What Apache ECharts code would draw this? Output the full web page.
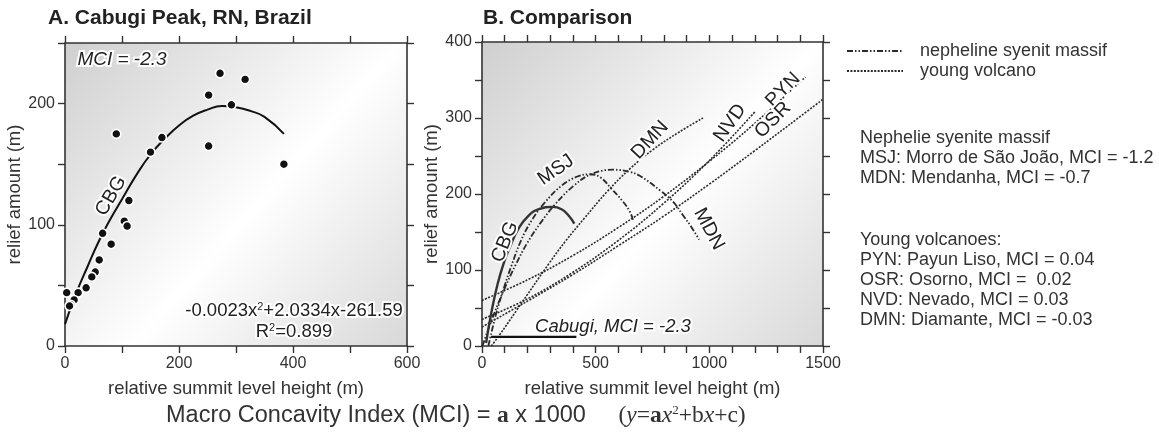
<!DOCTYPE html>
<html>
<head>
<meta charset="utf-8">
<script src="https://cdn.jsdelivr.net/npm/echarts/dist/echarts.min.js"></script>
<style>
html, body { margin: 0; padding: 0; background: #fff; }
#main { width: 1159px; height: 433px; }
</style>
</head>
<body>
<div id="main"></div>
<script>
// A. Cabugi samples (relative summit level height vs relief amount)
const cbgSampleX = [272, 316, 252, 292, 90, 170, 150, 252, 384, 112, 104, 109, 66, 81, 60, 53, 47, 37, 23, 3, 16, 10, 8]
const cbgSampleY = [225, 220, 207, 199, 175, 172, 160, 165, 150, 120, 103, 99, 93, 84, 71, 61, 57, 48, 44, 44, 38, 34, 33]

// A. fitted curve
const fitAX = [0, 20, 40, 60, 80, 100, 125, 150, 175, 200, 225, 250, 275, 300, 325, 350, 384]
const fitAY = [18, 44, 66, 87, 105, 121, 141, 158, 171, 182, 190, 195, 198, 197, 194, 189, 175]

// B. comparison curves
const cbgBX = [18, 40, 69, 100, 128, 160, 200, 250, 310, 350, 380, 406]
const cbgBY = [4, 42, 82, 113, 134, 154, 170, 180, 183, 180, 172, 161]
const msjX = [28, 60, 98, 130, 172, 220, 274, 350, 420, 474, 520, 569, 620, 650, 664]
const msjY = [0, 40, 78, 106, 139, 166, 188, 211, 223, 226, 222, 207, 190, 177, 166]
const mdnX = [2, 50, 100, 150, 200, 260, 320, 400, 480, 577, 650, 694, 782, 840, 884, 920, 955]
const mdnY = [0, 40, 76, 108, 136, 163, 186, 210, 226, 232, 229, 224, 205, 190, 172, 157, 140]
const pynX = [0, 200, 400, 600, 800, 1000, 1200, 1423]
const pynY = [60, 87, 119, 156, 197, 243, 293, 354]
const nvdX = [0, 200, 400, 600, 800, 1000, 1200]
const nvdY = [35, 62, 97, 139, 188, 244, 308]
const osrX = [0, 200, 400, 600, 800, 1000, 1200, 1400, 1497]
const osrY = [25, 59, 94, 132, 171, 213, 257, 302, 324]
const dmnX = [41, 76, 150, 298, 370, 450, 550, 650, 750, 870, 972]
const dmnY = [0, 14, 46, 110, 139, 168, 203, 233, 258, 282, 300]
const cabugiKeyX = [40, 415]
const cabugiKeyY = [12, 12]

// tick labels
const xLabelsA = [0, 200, 400, 600]
const yLabelsA = [0, 100, 200]
const xLabelsB = [0, 500, 1000, 1500]
const yLabelsB = [0, 100, 200, 300, 400]

const font = '"Liberation Sans", Arial, sans-serif'
const serif = '"Liberation Serif", "Times New Roman", serif'
const ink = '#2a2a2a'

function pairs (xs, ys) {
  return xs.map(function (x, i) { return [x, ys[i]] })
}

function bgFill () {
  return new echarts.graphic.LinearGradient(0, 0, 1, 1, [
    { offset: 0, color: '#cfcfcf' },
    { offset: 0.55, color: '#ffffff' },
    { offset: 1, color: '#d8d8d8' }
  ])
}

function axis (grid, pos, min, max, step, labels, name, gap) {
  let ax = {
    gridIndex: grid,
    type: 'value',
    position: pos,
    min: min,
    max: max,
    interval: step,
    axisLine: { onZero: false, lineStyle: { color: '#333', width: 1.6 } },
    axisTick: { length: 7, lineStyle: { color: '#333', width: 1.4 } },
    splitLine: { show: false },
    axisLabel: { show: false }
  }
  if (labels) {
    ax.axisLabel = {
      show: true,
      margin: 10,
      color: '#333',
      fontSize: 16,
      fontFamily: font,
      formatter: function (v) { return labels.indexOf(v) >= 0 ? String(v) : '' }
    }
    ax.name = name
    ax.nameLocation = 'middle'
    ax.nameGap = gap
    ax.nameTextStyle = { color: '#333', fontSize: 18.5, fontFamily: font }
  }
  return ax
}

function dashLine (name, xs, ys, dash, width) {
  return {
    name: name,
    type: 'line',
    xAxisIndex: 2,
    yAxisIndex: 2,
    data: pairs(xs, ys),
    smooth: 0.4,
    showSymbol: false,
    lineStyle: { color: ink, width: width, type: dash },
    z: 2
  }
}

function label (text, x, y, deg, size, italic) {
  return {
    type: 'text',
    x: x,
    y: y,
    rotation: deg * Math.PI / 180,
    z: 20,
    style: {
      text: text,
      font: (italic ? 'italic ' : '') + size + 'px ' + font,
      fill: '#222',
      stroke: '#fff',
      lineWidth: 4,
      align: 'center',
      verticalAlign: 'middle'
    }
  }
}

function plain (text, x, y) {
  return {
    type: 'text',
    x: x,
    y: y,
    style: { text: text, font: '18px ' + font, fill: '#333', align: 'left', verticalAlign: 'middle' }
  }
}

let chart = echarts.init(document.getElementById('main'))
chart.setOption({
  animation: false,
  backgroundColor: '#fff',
  title: [
    { text: 'A. Cabugi Peak, RN, Brazil', left: 48, top: 8, padding: 0, textStyle: { fontFamily: font, fontSize: 21, fontWeight: 'bold', color: '#222' } },
    { text: 'B. Comparison', left: 483, top: 8, padding: 0, textStyle: { fontFamily: font, fontSize: 21, fontWeight: 'bold', color: '#222' } }
  ],
  grid: [
    { left: 65, top: 43, width: 342, height: 303, show: true, borderWidth: 0, backgroundColor: bgFill() },
    { left: 482, top: 42, width: 341, height: 304, show: true, borderWidth: 0, backgroundColor: bgFill() }
  ],
  xAxis: [
    axis(0, 'bottom', 0, 600, 100, xLabelsA, 'relative summit level height (m)', 33),
    axis(0, 'top', 0, 600, 100, null),
    axis(1, 'bottom', 0, 1500, 100, xLabelsB, 'relative summit level height (m)', 33),
    axis(1, 'top', 0, 1500, 100, null)
  ],
  yAxis: [
    axis(0, 'left', 0, 250, 50, yLabelsA, 'relief amount (m)', 37),
    axis(0, 'right', 0, 250, 50, null),
    axis(1, 'left', 0, 400, 50, yLabelsB, 'relief amount (m)', 39),
    axis(1, 'right', 0, 400, 50, null)
  ],
  series: [
    {
      name: 'CBG fit',
      type: 'line',
      xAxisIndex: 0,
      yAxisIndex: 0,
      data: pairs(fitAX, fitAY),
      smooth: true,
      showSymbol: false,
      lineStyle: { color: '#111', width: 2 },
      z: 2
    },
    {
      name: 'CBG samples',
      type: 'scatter',
      xAxisIndex: 0,
      yAxisIndex: 0,
      data: pairs(cbgSampleX, cbgSampleY),
      symbolSize: 9,
      itemStyle: { color: '#111', borderColor: '#fff', borderWidth: 1.6, opacity: 1 },
      z: 3
    },
    {
      name: 'CBG',
      type: 'line',
      xAxisIndex: 2,
      yAxisIndex: 2,
      data: pairs(cbgBX, cbgBY),
      smooth: true,
      showSymbol: false,
      lineStyle: { color: '#333', width: 2.4 },
      z: 3
    },
    dashLine('MSJ', msjX, msjY, [6, 2, 1.5, 2, 1.5, 2], 1.8),
    dashLine('MDN', mdnX, mdnY, [6, 2, 1.5, 2, 1.5, 2], 1.8),
    dashLine('PYN', pynX, pynY, [2, 1.4], 1.6),
    dashLine('NVD', nvdX, nvdY, [2, 1.4], 1.6),
    dashLine('OSR', osrX, osrY, [2, 1.4], 1.6),
    dashLine('DMN', dmnX, dmnY, [2, 1.4], 1.6),
    {
      name: 'Cabugi key',
      type: 'line',
      xAxisIndex: 2,
      yAxisIndex: 2,
      data: pairs(cabugiKeyX, cabugiKeyY),
      showSymbol: false,
      lineStyle: { color: '#111', width: 2.2 },
      z: 3
    }
  ],
  graphic: [
    // panel A notes
    label('MCI = -2.3', 122, 60, 0, 19, true),
    label('CBG', 111, 196, 60, 19.5),
    {
      type: 'text', x: 294, y: 311, z: 20,
      style: {
        text: '{t|-0.0023x}{s|2}{t|+2.0334x-261.59}',
        align: 'center', verticalAlign: 'middle',
        rich: {
          t: { font: '18.5px ' + font, fill: '#222', stroke: '#fff', lineWidth: 4 },
          s: { font: '11px ' + font, fill: '#222', verticalAlign: 'top', stroke: '#fff', lineWidth: 3 }
        }
      }
    },
    {
      type: 'text', x: 294, y: 332, z: 20,
      style: {
        text: '{t|R}{s|2}{t|=0.899}',
        align: 'center', verticalAlign: 'middle',
        rich: {
          t: { font: '18.5px ' + font, fill: '#222', stroke: '#fff', lineWidth: 4 },
          s: { font: '11px ' + font, fill: '#222', verticalAlign: 'top', stroke: '#fff', lineWidth: 3 }
        }
      }
    },
    // panel B curve labels
    label('CBG', 505, 242, 68, 19.5),
    label('MSJ', 556, 170, 35, 19.5),
    label('DMN', 650, 140, 47, 19.5),
    label('NVD', 730, 123, 55, 19.5),
    label('PYN', 783, 90, 45, 19.5),
    label('OSR', 773, 120, 45, 19.5),
    label('MDN', 709, 229, -62, 19.5),
    label('Cabugi, MCI = -2.3', 613, 327, 0, 18.5, true),
    // key on the right
    {
      type: 'line',
      shape: { x1: 847, y1: 51, x2: 903, y2: 51 },
      style: { stroke: ink, lineWidth: 2, lineDash: [6, 2, 1.5, 2, 1.5, 2] }
    },
    {
      type: 'line',
      shape: { x1: 847, y1: 71, x2: 903, y2: 71 },
      style: { stroke: ink, lineWidth: 2, lineDash: [2, 1.4] }
    },
    plain('nepheline syenit massif', 920, 51),
    plain('young volcano', 920, 71),
    plain('Nephelie syenite massif', 860, 138),
    plain('MSJ: Morro de São João, MCI = -1.2', 860, 158),
    plain('MDN: Mendanha, MCI = -0.7', 860, 178),
    plain('Young volcanoes:', 860, 240),
    plain('PYN: Payun Liso, MCI = 0.04', 860, 260),
    plain('OSR: Osorno, MCI =  0.02', 860, 280),
    plain('NVD: Nevado, MCI = 0.03', 860, 300),
    plain('DMN: Diamante, MCI = -0.03', 860, 320),
    // index formula at the bottom
    {
      type: 'text', x: 166, y: 416,
      style: {
        text: '{s|Macro Concavity Index (MCI) = }{b|a}{s| x 1000}{g|     }{t|(}{i|y}{t|=}{b|a}{i|x}{u|2}{t|+b}{i|x}{t|+c)}',
        align: 'left', verticalAlign: 'middle',
        rich: {
          s: { font: '23.5px ' + font, fill: '#333' },
          g: { font: '23.5px ' + font },
          b: { font: 'bold 23.5px ' + serif, fill: '#333' },
          t: { font: '23.5px ' + serif, fill: '#333' },
          i: { font: 'italic 23.5px ' + serif, fill: '#333' },
          u: { font: '13px ' + serif, fill: '#333', verticalAlign: 'top' }
        }
      }
    }
  ]
})
</script>
</body>
</html>
